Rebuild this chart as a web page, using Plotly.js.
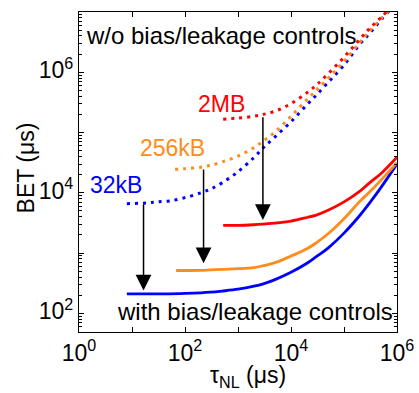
<!DOCTYPE html>
<html><head><meta charset="utf-8">
<script src="https://cdn.plot.ly/plotly-3.0.1.min.js"></script>
<style>html,body{margin:0;padding:0;background:#fff;}#chart{width:419px;height:393px;}</style>
</head><body><div id="chart"></div>
<script>
// tau_NL (us) and BET (us)
const tauBlueDot = [8,20,30,50,100,200,300,500,1000,2000,3000,5000,1e4,2e4,3e4,5e4,1e5,2e5,3e5,5e5,1e6];
const betBlueDot = [6600,6800,7100,7300,8300,10000,11500,14600,22400,38500,56000,85000,151000,290000,417000,676000,1.32e6,2.95e6,4.37e6,7.4e6,1.45e7];
const tauOrangeDot = [65,100,200,300,500,1000,2000,3000,5000,1e4,2e4,3e4,5e4,1e5,2e5,3e5,5e5,1e6];
const betOrangeDot = [24500,25100,26600,28500,32400,40700,56200,72400,102000,186000,351000,501000,794000,1.51e6,3.16e6,4.79e6,7.76e6,1.48e7];
const tauRedDot = [525,1000,2000,3000,5000,1e4,2e4,3e4,5e4,1e5,2e5,3e5,5e5,1e6];
const betRedDot = [166000,174000,186000,200000,226000,302000,457000,610000,944000,1.78e6,3.55e6,5.25e6,8.13e6,1.51e7];

const tauBlue = [8,20,30,50,100,200,300,500,1000,2000,3000,5000,1e4,2e4,3e4,5e4,1e5,2e5,3e5,5e5,1e6];
const betBlue = [210,210,210,211,214,219,224,234,251,282,309,363,479,676,871,1210,2140,4240,6670,12300,30200];
const tauOrange = [68,100,200,300,500,1000,2000,3000,5000,1e4,2e4,3e4,5e4,1e5,2e5,3e5,5e5,1e6];
const betOrange = [513,513,515,525,537,550,575,617,692,891,1175,1480,2090,3720,7240,10200,16200,31600];
const tauRed = [525,1000,2000,3000,5000,1e4,2e4,3e4,5e4,1e5,2e5,3e5,5e5,1e6];
const betRed = [2880,2880,2950,3020,3130,3390,3890,4270,5130,7080,10700,14500,20900,38900];

// arrows: tau position, BET start (dotted), BET end (solid)
const arrowTau = [16.5, 224, 2950];
const arrowFrom = [6760, 25700, 190000];
const arrowTo = [240, 676, 3550];

const seriesLabels = ['32kB','256kB','2MB'];
const xTickVals = [1,10,100,1e3,1e4,1e5,1e6];
const xTickText = ['10<sup>0</sup>','','10<sup>2</sup>','','10<sup>4</sup>','','10<sup>6</sup>'];
const yTickVals = [100,1e3,1e4,1e5,1e6,1e7];
const yTickText = ['10<sup>2</sup>','','10<sup>4</sup>','','10<sup>6</sup>',''];
const xTitle = 'τ<sub>NL</sub> (μs)';
const yTitle = 'BET (μs)';

const BLUE='#0000ff', ORANGE='#ff8c1a', RED='#ff0000';
const FONT='Arial, "Liberation Sans", sans-serif';

const yMinor=[];
for(let e=1;e<7;e++){for(let m=2;m<10;m++){yMinor.push(m*Math.pow(10,e));}}

function dot(x,y,c){return {x:x,y:y,mode:'lines',line:{color:c,width:3,dash:'3px,5px',shape:'spline'},hoverinfo:'skip'};}
function sol(x,y,c){return {x:x,y:y,mode:'lines',line:{color:c,width:2.8,shape:'spline'},hoverinfo:'skip'};}

const data=[
  dot(tauBlueDot,betBlueDot,BLUE), dot(tauOrangeDot,betOrangeDot,ORANGE), dot(tauRedDot,betRedDot,RED),
  sol(tauBlue,betBlue,BLUE), sol(tauOrange,betOrange,ORANGE), sol(tauRed,betRed,RED)
];

const ann=[];
for(let i=0;i<arrowTau.length;i++){
  ann.push({x:Math.log10(arrowTau[i]),y:Math.log10(arrowTo[i]),ax:Math.log10(arrowTau[i]),ay:Math.log10(arrowFrom[i]),
    xref:'x',yref:'y',axref:'x',ayref:'y',text:'',showarrow:true,arrowhead:2,arrowsize:2.1,arrowwidth:1.5,arrowcolor:'#000',standoff:0,startstandoff:0});
}
ann.push({xref:'paper',yref:'paper',x:0.016,y:0.925,xanchor:'left',yanchor:'middle',text:'w/o bias/leakage controls',showarrow:false,font:{family:FONT,size:24,color:'#000'}});
ann.push({xref:'paper',yref:'paper',x:0.112,y:0.064,xanchor:'left',yanchor:'middle',text:'with bias/leakage controls',showarrow:false,font:{family:FONT,size:24,color:'#000'}});
const labelColors=[BLUE,ORANGE,RED];
const labelPos=[[0.116,0.458],[0.294,0.574],[0.449,0.712]];
for(let i=0;i<3;i++){
  ann.push({xref:'paper',yref:'paper',x:labelPos[i][0],y:labelPos[i][1],xanchor:'center',yanchor:'middle',text:seriesLabels[i],showarrow:false,font:{family:FONT,size:23,color:labelColors[i]}});
}
// axis titles
ann.push({xref:'paper',yref:'paper',x:-0.167,y:0.514,xanchor:'center',yanchor:'middle',textangle:-90,text:yTitle,showarrow:false,font:{family:FONT,size:23,color:'#000'}});
ann.push({xref:'paper',yref:'paper',x:0.53,y:-0.1875,xanchor:'center',yanchor:'bottom',text:xTitle,showarrow:false,borderpad:0,font:{family:FONT,size:23,color:'#000'}});

const layout={
  width:419,height:393,margin:{l:79,r:22,t:12,b:61},
  paper_bgcolor:'#fff',plot_bgcolor:'#fff',showlegend:false,
  font:{family:FONT,size:23,color:'#000'},
  xaxis:{type:'log',range:[0,6],tickmode:'array',tickvals:xTickVals,ticktext:xTickText,
    ticks:'inside',ticklen:5,tickwidth:1,tickcolor:'#000',showline:true,linecolor:'#000',linewidth:1.2,mirror:'ticks',
    showgrid:false,zeroline:false,tickfont:{family:FONT,size:23},ticklabelstandoff:0},
  yaxis:{type:'log',range:[1.69,7.0],tickmode:'array',tickvals:yTickVals,ticktext:yTickText,
    ticks:'inside',ticklen:5,tickwidth:1,tickcolor:'#000',showline:true,linecolor:'#000',linewidth:1.2,mirror:'ticks',
    showgrid:false,zeroline:false,tickfont:{family:FONT,size:23},ticklabelshift:-2,
    minor:{tickmode:'array',tickvals:yMinor,ticks:'inside',ticklen:3,tickwidth:1,tickcolor:'#000',showgrid:false}},
  annotations:ann
};
Plotly.newPlot('chart',data,layout,{displayModeBar:false,staticPlot:true});
</script></body></html>
